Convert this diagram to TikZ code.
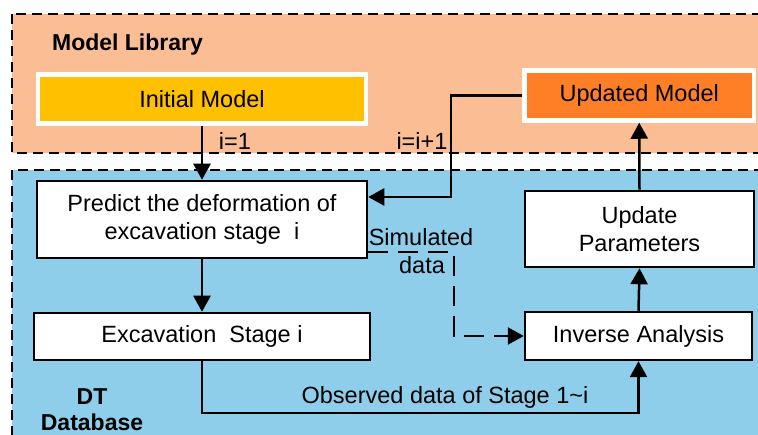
\documentclass[tikz,border=0pt]{standalone}
\usepackage{fontspec}
\setmainfont{Liberation Sans}
\usetikzlibrary{arrows.meta}
\definecolor{peach}{RGB}{251,190,148}
\definecolor{skyblue}{RGB}{142,206,234}
\definecolor{gold}{RGB}{255,192,0}
\definecolor{tangerine}{RGB}{255,127,39}
\begin{document}
\begin{tikzpicture}[x=1pt,y=-1pt,
  region/.style={draw=black,line width=2pt,dash pattern=on 10pt off 6pt},
  stepbox/.style={draw=black,fill=white,line width=2.5pt,inner sep=0pt,align=center},
  modelbox/.style={draw=white,line width=4.5pt,inner sep=0pt,align=center},
  lbl/.style={inner sep=0pt},
  arr/.style={line width=2.5pt,-{Triangle[width=17pt 0 0,length=16pt 0 0]}},
  dasharr/.style={arr,dash pattern=on 20pt off 10pt},
  font=\fontsize{23.5}{28}\selectfont]
\clip (0,0) rectangle (758,435);
\fill[white] (0,0) rectangle (758,435);

% the two zones
\draw[region,fill=peach] (12,14) rectangle (800,153);
\draw[region,fill=skyblue] (12,170) rectangle (800,470);
\node[lbl,font=\fontsize{23}{28}\selectfont\bfseries] (lib) at (127.5,45) {Model Library};
\node[lbl,font=\fontsize{23}{26}\selectfont\bfseries,align=center] (db) at (92,410) {DT\\Database};

% models
\node[modelbox,fill=gold,minimum width=328pt,minimum height=49pt] (init) at (202,99) {Initial Model};
\node[modelbox,fill=tangerine,minimum width=229.5pt,minimum height=50pt] (upd) at (639.25,95.5) {Updated Model};

% steps
\node[stepbox,minimum width=330pt,minimum height=77pt] (pred) at (202,219.5) {Predict the deformation of\\excavation stage~~i};
\node[stepbox,minimum width=336pt,minimum height=47pt] (exc) at (202,336.5) {Excavation~~Stage i};
\node[stepbox,minimum width=229pt,minimum height=76pt] (par) at (639.5,229) {Update\\Parameters};
\node[stepbox,minimum width=227pt,minimum height=48pt] (inv) at (638.5,336) {Inverse Analysis};

% connectors
\draw[arr] (init.south) -- (pred.north);
\node[lbl] (l1) at (235,141) {i=1};

\coordinate (fbA) at (451,95.5);
\coordinate (fbB) at (451,197);
\draw[arr] (upd.west) -- (fbA) -- (fbB) -- (pred.east |- fbB);
\node[lbl] (l2) at (422,141) {i=i+1};

\draw[arr] (pred.south) -- (exc.north);
\draw[arr] (inv.north) -- (par.south);
\draw[arr] (par.north) -- (upd.south);

\coordinate (simB) at (454,252);
\draw[dasharr] (pred.east |- simB) -- (simB) |- (inv.west);
\node[lbl] (sim1) at (421,237) {Simulated};
\node[lbl] (sim2) at (422,265) {data};

\coordinate (obsA) at (202,413);
\draw[arr] (exc.south) -- (obsA) -| (inv.south);
\node[lbl] (obs) at (445,397) {Observed data of Stage 1\textasciitilde i};
\end{tikzpicture}
\end{document}
